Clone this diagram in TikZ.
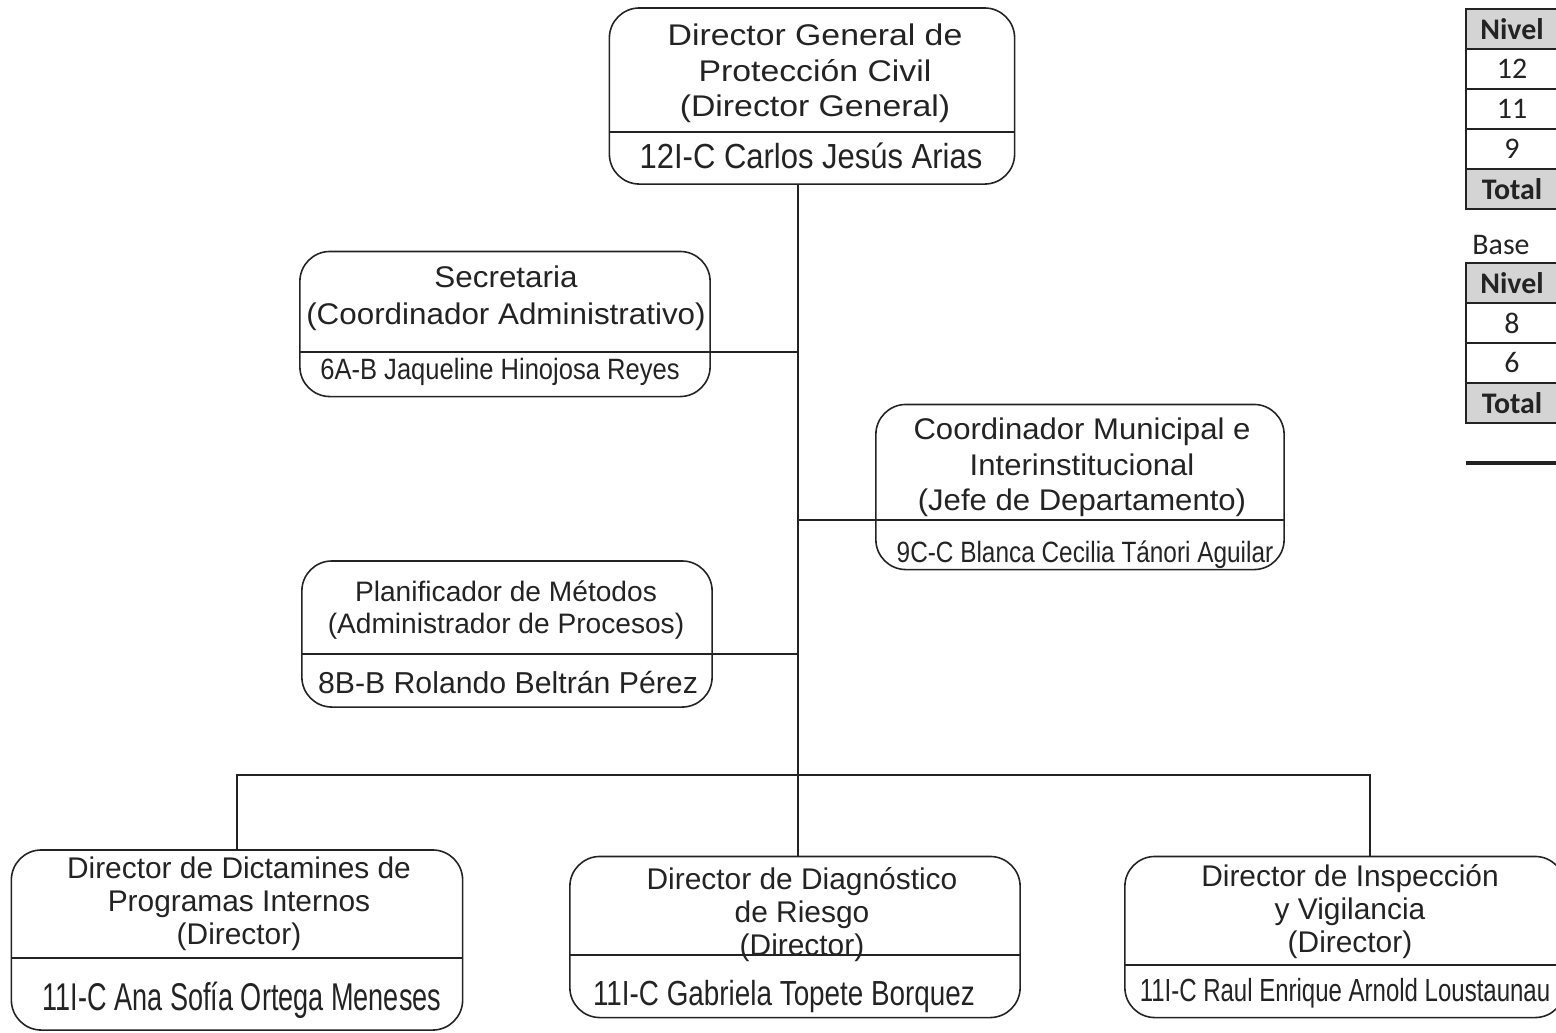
\documentclass[tikz,border=0pt]{standalone}
\usepackage{fontspec}
\usepackage{graphicx}
\setmainfont{Liberation Sans}
\newfontfamily\calibri{Carlito}
\newcommand\rotulo[4]{\scalebox{#1}[1]{\fontsize{#2}{#3}\selectfont\begin{tabular}{@{}c@{}}#4\end{tabular}}}
\newcommand\nombre[3]{\scalebox{#1}[1]{\fontsize{#2}{#2}\selectfont #3}}
\definecolor{tinta}{RGB}{35,35,35}
\definecolor{celda_gris}{RGB}{212,212,212}

\begin{document}
\begin{tikzpicture}[x=0.01cm,y=-0.01cm,line width=0.45pt,color=tinta]
    \tikzstyle{puesto}=[draw, rounded corners=0.3cm, inner sep=0pt]
    \tikzstyle{titulo}=[inner sep=0pt]
    \tikzstyle{nombre}=[inner sep=0pt, anchor=base]
    \tikzstyle{celda}=[draw, line width=0.7pt, minimum width=0.92cm, minimum height=0.4cm, inner sep=0pt, font=\calibri\fontsize{8.5}{10}\selectfont]
    \tikzstyle{celdagris}=[style=celda, fill=celda_gris, font=\calibri\bfseries\fontsize{8.5}{10}\selectfont]

    \clip (0,0) rectangle (1556,1032);

    % cajas
    \node[puesto, minimum width=4.05cm, minimum height=1.76cm] (dg)    at (812,96)   {};
    \node[puesto, minimum width=4.10cm, minimum height=1.45cm] (sec)   at (505,324)  {};
    \node[puesto, minimum width=4.08cm, minimum height=1.65cm] (coord) at (1080,487) {};
    \node[puesto, minimum width=4.10cm, minimum height=1.46cm] (plan)  at (507,634)  {};
    \node[puesto, minimum width=4.51cm, minimum height=1.80cm] (dict)  at (237,940)  {};
    \node[puesto, minimum width=4.50cm, minimum height=1.61cm] (diag)  at (795,937)  {};
    \node[puesto, minimum width=4.40cm, minimum height=1.61cm] (insp)  at (1345,937) {};

    \node[titulo] (dgT)    at (815,74)   {\rotulo{1.13}{8.5}{9.96}{Director General de\\Protección Civil\\(Director General)}};
    \node[nombre] (dgN)    at (811,168)  {\nombre{0.89}{9.9}{12I-C Carlos Jesús Arias}};
    \node[titulo] (secT)   at (506,299)  {\rotulo{1.05}{8.5}{10.5}{Secretaria\\(Coordinador Administrativo)}};
    \node[nombre] (secN)   at (500,379)  {\nombre{0.87}{8.35}{6A-B Jaqueline Hinojosa Reyes}};
    \node[titulo] (coordT) at (1082,468) {\rotulo{1.04}{8.5}{9.96}{Coordinador Municipal e\\Interinstitucional\\(Jefe de Departamento)}};
    \node[nombre] (coordN) at (1085,562) {\nombre{0.83}{8.35}{9C-C Blanca Cecilia Tánori Aguilar}};
    \node[titulo] (planT)  at (506,611)  {\rotulo{1}{8}{9.1}{Planificador de Métodos\\(Administrador de Procesos)}};
    \node[nombre] (planN)  at (508,693)  {\nombre{1}{8.6}{8B-B Rolando Beltrán Pérez}};
    \node[titulo] (dictT)  at (239,905)  {\rotulo{1}{8.5}{9.4}{Director de Dictamines de\\Programas Internos\\(Director)}};
    \node[nombre] (dictN)  at (242,1010) {\nombre{0.70}{11}{11I-C Ana Sofía Ortega Meneses}};
    \node[titulo] (diagT)  at (802,916)  {\rotulo{1}{8.5}{9.4}{Director de Diagnóstico\\de Riesgo\\(Director)}};
    \node[nombre] (diagN)  at (784,1005) {\nombre{0.80}{9.9}{11I-C Gabriela Topete Borquez}};
    \node[titulo] (inspT)  at (1350,913) {\rotulo{1}{8.5}{9.4}{Director de Inspección\\y Vigilancia\\(Director)}};
    \node[nombre] (inspN)  at (1345,1001) {\nombre{0.75}{9.1}{11I-C Raul Enrique Arnold Loustaunau}};

    % lineas de mando
    \coordinate (tronco) at (798,775);
    \coordinate (busD)   at (1370,775);

    \draw (dg.west |- 0,132) -- (dg.east |- 0,132);
    \draw (sec.west |- 0,352) -- (tronco |- 0,352);
    \draw (tronco |- 0,520) -- (coord.east |- 0,520);
    \draw (plan.west |- 0,654) -- (tronco |- 0,654);
    \draw (dict.west |- 0,958) -- (dict.east |- 0,958);
    \draw (diag.west |- 0,955) -- (diag.east |- 0,955);
    \draw (insp.west |- 0,965) -- (insp.east |- 0,965);

    \draw (dg.south -| tronco) -- (tronco) -- (diag.north -| tronco);
    \draw (dict.north) -- (dict.north |- tronco) -- (busD) -- (busD |- insp.north);

    % tablas de niveles
    \node[celdagris] (n1) at (1512,29)  {Nivel};
    \node[celda]     (a1) at (1512,69)  {12};
    \node[celda]     (a2) at (1512,109) {11};
    \node[celda]     (a3) at (1512,149) {9};
    \node[celdagris] (t1) at (1512,189) {Total};

    \node[font=\calibri\fontsize{8.5}{10}\selectfont] (base) at (1501,245) {Base};
    \node[celdagris] (n2) at (1512,283) {Nivel};
    \node[celda]     (b1) at (1512,323) {8};
    \node[celda]     (b2) at (1512,363) {6};
    \node[celdagris] (t2) at (1512,403) {Total};

    \draw[line width=0.9pt] (1466,463) -- (1556,463);
\end{tikzpicture}
\end{document}
